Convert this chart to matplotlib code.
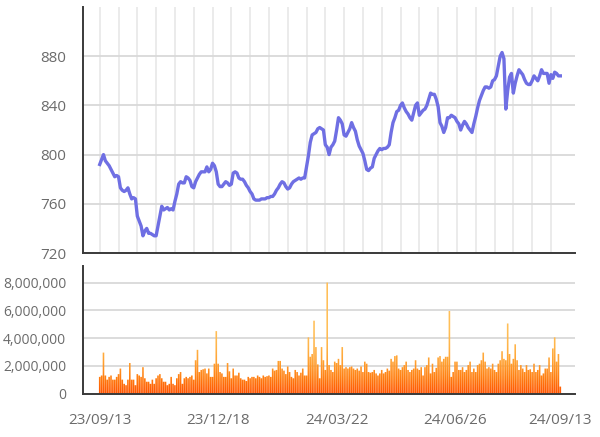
import matplotlib
matplotlib.use("Agg")
import matplotlib.pyplot as plt
import numpy as np
from matplotlib.colors import LinearSegmentedColormap
from matplotlib.ticker import FuncFormatter
from matplotlib.path import Path
from matplotlib.patches import PathPatch

plt.rcParams["font.family"] = ["Open Sans", "DejaVu Sans"]

# closing price, one value per trading day (23/09/13 .. 24/09/13)
price = [
    792, 796, 800, 795, 793, 791, 788, 785, 782, 783,
    782, 773, 771, 770, 771, 773, 768, 764, 765, 764,
    750, 746, 742, 734, 738, 740, 736, 736, 735, 734,
    734, 742, 750, 758, 755, 756, 757, 755, 756, 755,
    762, 768, 776, 778, 777, 777, 782, 781, 779, 774,
    773, 778, 781, 784, 786, 786, 786, 790, 786, 788,
    793, 791, 786, 776, 774, 774, 776, 778, 777, 775,
    776, 785, 786, 785, 781, 780, 780, 778, 775, 773,
    770, 768, 764, 763, 763, 763, 764, 764, 764, 765,
    765, 766, 766, 768, 771, 773, 776, 778, 777, 774,
    772, 773, 776, 778, 779, 780, 781, 780, 781, 781,
    790, 799, 810, 816, 817, 818, 821, 822, 821, 820,
    808, 806, 800, 806, 808, 811, 820, 830, 828, 825,
    816, 815, 818, 821, 826, 822, 819, 812, 807, 804,
    801, 795, 788, 787, 789, 790, 797, 800, 803, 805,
    804, 805, 805, 806, 808, 818, 826, 830, 835, 836,
    840, 842, 838, 835, 833, 830, 828, 834, 840, 842,
    832, 834, 836, 837, 840, 845, 850, 849, 849, 845,
    839, 826, 823, 818, 822, 830, 830, 832, 831, 830,
    827, 825, 820, 824, 827, 825, 822, 820, 818, 825,
    831, 838, 844, 848, 852, 855, 855, 854, 855, 860,
    861, 864, 872, 880, 883, 878, 837, 852, 863, 866,
    850, 858, 864, 869, 867, 865, 861, 858, 857, 857,
    860, 864, 862, 860, 864, 869, 866, 866, 866, 858,
    865, 862, 867, 866, 864, 864,
]

# traded volume in millions of shares
volume_m = [
    1.2, 1.3, 2.95, 1.3, 1.0, 1.2, 1.3, 1.0, 1.0, 1.2,
    1.4, 1.8, 1.0, 0.7, 0.6, 1.0, 2.2, 1.0, 1.0, 0.6,
    1.4, 1.3, 1.2, 1.9, 1.1, 0.85, 0.85, 0.7, 1.0, 0.7,
    1.1, 1.3, 1.4, 1.1, 0.85, 0.85, 0.6, 0.7, 1.2, 0.7,
    0.6, 1.1, 1.4, 1.55, 0.7, 1.1, 1.2, 1.1, 1.2, 1.3,
    1.0, 2.4, 3.15, 1.55, 1.7, 1.75, 1.8, 1.45, 1.8, 1.2,
    1.2, 2.15, 4.5, 2.15, 1.55, 1.45, 1.2, 1.2, 2.2, 1.6,
    1.1, 1.8, 1.3, 1.3, 1.5, 1.1, 1.0, 1.0, 0.9, 1.2,
    1.1, 1.2, 1.2, 1.1, 1.3, 1.2, 1.1, 1.3, 1.2, 1.25,
    1.3, 1.2, 1.8, 1.65, 1.7, 2.35, 2.35, 1.8, 1.65, 1.4,
    1.95, 1.55, 1.2, 1.1, 1.7, 1.55, 1.3, 1.5, 1.8, 1.3,
    1.3, 4.05, 2.65, 2.85, 5.25, 3.35, 2.1, 1.1, 3.35, 2.4,
    1.7, 8.0, 2.05, 1.7, 1.55, 2.3, 2.2, 2.5, 2.05, 3.35,
    1.8, 1.9, 1.8, 1.9, 1.95, 1.8, 1.7, 1.8, 1.65, 1.95,
    1.55, 2.3, 2.15, 1.55, 1.5, 1.55, 1.7, 1.45, 1.3, 1.45,
    1.7, 1.45, 1.55, 1.8, 1.65, 2.5, 2.3, 2.7, 2.75, 1.8,
    1.7, 1.9, 2.05, 2.3, 1.7, 1.55, 1.7, 1.8, 2.4, 1.8,
    1.7, 1.9, 1.3, 1.9, 2.05, 2.6, 1.45, 2.15, 1.55, 1.85,
    2.6, 2.7, 2.3, 2.5, 2.65, 2.65, 5.95, 1.2, 1.55, 2.3,
    2.3, 1.7, 1.7, 1.9, 1.55, 1.7, 2.05, 2.3, 1.55, 1.8,
    1.55, 2.05, 2.15, 2.4, 2.95, 2.3, 1.8, 1.9, 1.8, 2.15,
    1.7, 1.55, 2.15, 2.4, 3.05, 2.5, 2.4, 5.05, 2.85, 2.15,
    2.5, 3.55, 2.4, 1.7, 2.05, 1.8, 1.55, 2.05, 1.7, 1.75,
    1.55, 2.15, 1.55, 1.7, 2.05, 1.3, 1.45, 1.8, 1.8, 2.6,
    1.55, 3.25, 4.05, 2.3, 2.85, 0.5,
]

tick_idx = [0, 63, 126, 189, 245]
tick_labels = ["23/09/13", "23/12/18", "24/03/22", "24/06/26", "24/09/13"]

GRID_H = "#d9d9d9"
GRID_V = "#e9e9e9"
SPINE = "#3a3a3a"
TEXT = "#6b6b6b"
LINE = "#6f6fe3"

x = np.arange(len(price))
vol = np.asarray(volume_m) * 1e6
xlim = (-9, 252.7)

fig = plt.figure(figsize=(6.0, 4.37), dpi=100)
ax1 = fig.add_axes([0.138, 0.421, 0.82, 0.563])
ax2 = fig.add_axes([0.138, 0.0995, 0.82, 0.292])

for ax in (ax1, ax2):
    for s in ("top", "right"):
        ax.spines[s].set_visible(False)
    for s in ("left", "bottom"):
        ax.spines[s].set_color(SPINE)
        ax.spines[s].set_linewidth(1.4)
    ax.set_axisbelow(True)
    ax.tick_params(length=0, colors=TEXT, labelsize=10)
    ax.set_xlim(*xlim)

# price panel
ax1.plot(x, price, color=LINE, lw=2.4, solid_joinstyle="round")
ax1.set_ylim(720, 920)
ax1.set_yticks([720, 760, 800, 840, 880])
ax1.set_xticks(np.arange(0, 241, 10))
ax1.set_xticklabels([])
ax1.grid(axis="y", color=GRID_H, lw=1.3)
ax1.grid(axis="x", color=GRID_V, lw=1.3)
ax1.tick_params(axis="y", pad=12, labelsize=11)

# volume panel, bars filled with a vertical orange gradient
bars = ax2.bar(x, vol, width=0.85, color="none", edgecolor="none")
paths = [b.get_path().transformed(b.get_patch_transform()) for b in bars]
clip = PathPatch(Path.make_compound_path(*paths), transform=ax2.transData,
                 facecolor="none", edgecolor="none")
ax2.add_patch(clip)
cmap = LinearSegmentedColormap.from_list(
    "vol", ["#ff5200", "#ff7d10", "#ffa030", "#ffb448", "#ffbf58"])
grad = np.linspace(0, 1, 256).reshape(-1, 1)
im = ax2.imshow(grad, extent=[xlim[0], xlim[1], 0, 4.5e6], origin="lower",
                aspect="auto", cmap=cmap, zorder=2)
im2 = ax2.imshow(np.ones((2, 1)), extent=[xlim[0], xlim[1], 4.5e6, 9.2e6],
                 origin="lower", aspect="auto", cmap=cmap, vmin=0, vmax=1, zorder=2)
im.set_clip_path(clip)
im2.set_clip_path(clip)
ax2.set_ylim(0, 9.2e6)
ax2.set_xlim(*xlim)
ax2.set_yticks([0, 2e6, 4e6, 6e6, 8e6])
ax2.yaxis.set_major_formatter(FuncFormatter(lambda v, p: f"{int(v):,}"))
ax2.grid(axis="y", color=GRID_H, lw=1.3)
ax2.set_xticks(tick_idx)
ax2.set_xticklabels(tick_labels)
ax2.tick_params(axis="x", pad=14, labelsize=11)
ax2.tick_params(axis="y", pad=12)

fig.savefig("out.png", dpi=100)
